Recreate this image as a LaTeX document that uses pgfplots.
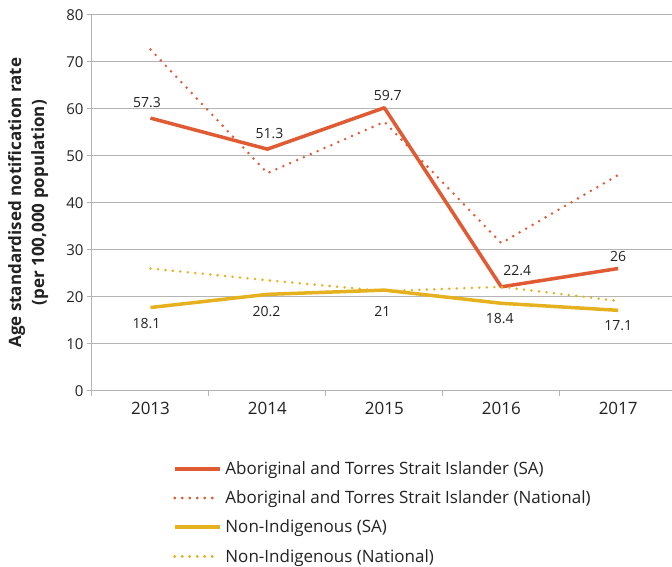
\documentclass[border=0pt]{standalone}
\usepackage{fontspec}
\setmainfont{Open Sans}
\usepackage{pgfplots}
\pgfplotsset{compat=1.18}
\definecolor{abo}{HTML}{E05A33}
\definecolor{non}{HTML}{E6B11E}
\definecolor{gridc}{HTML}{B4B4B4}
\definecolor{txt}{HTML}{222222}

\pgfplotstableread{
x y lab dx dy
0 58.0 57.3 -3.5 16
1 51.4 51.3 2 16
2 60.2 59.7 3.5 12
3 22.1 22.4 16 16
4 26.0 26 0 12
}\aboSA
\pgfplotstableread{
x y
0 72.6
1 46.3
2 57.2
3 31.4
4 45.9
}\aboNat
\pgfplotstableread{
x y lab dx dy
0 17.7 18.1 -4 -16
1 20.5 20.2 -1 -17
2 21.4 21 -2 -21
3 18.6 18.4 -1.5 -15
4 17.1 17.1 0 -15
}\nonSA
\pgfplotstableread{
x y
0 26.0
1 23.5
2 21.2
3 22.1
4 19.1
}\nonNat

\begin{document}
\begin{tikzpicture}
\useasboundingbox (-92pt,-175.3pt) rectangle (580pt,390.7pt);
\begin{axis}[
  scale only axis, width=580pt, height=376pt,
  xmin=-0.5, xmax=4.46, ymin=0, ymax=80,
  axis x line=bottom, axis y line=left,
  axis line style={gridc, line width=1pt, -},
  tick align=outside,
  xtick={0,1,2,3,4}, xticklabels={2013,2014,2015,2016,2017},
  major x tick style={draw=none},
  minor xtick={-0.5,0.5,1.5,2.5,3.5},
  minor tick length=5pt, major tick length=5pt,
  minor tick style={gridc, line width=1pt},
  ytick={0,10,...,80},
  y tick style={gridc, line width=1pt},
  ymajorgrids, grid style={gridc, line width=0.8pt},
  xticklabel style={font=\fontsize{17}{20}\selectfont, text=txt, yshift=-3pt},
  yticklabel style={font=\fontsize{15}{18}\selectfont, text=txt},
  /pgf/number format/assume math mode=true,
  ylabel={Age standardised notification rate\\(per 100,000 population)},
  every axis y label/.style={at={(rel axis cs:-0.110,0.5)}, rotate=90, anchor=center,
     align=center, font=\fontsize{17}{23}\selectfont\bfseries, text=txt},
  legend style={at={(rel axis cs:0.134,-0.172)}, anchor=north west, draw=none, fill=none,
     font=\fontsize{17}{20}\selectfont, text=txt, row sep=6.8pt,
     nodes={inner sep=4pt}},
  legend cell align=left,
  legend image code/.code={\draw[#1] (0pt,0pt) -- (38pt,0pt); \path (0pt,0pt) -- (45pt,0pt);},
  nodes near coords style={font=\fontsize{14}{17}\selectfont, text=txt, anchor=center},
]
\addplot[abo, line width=3.5pt, line join=round,
  nodes near coords, point meta=explicit symbolic,
  visualization depends on={\thisrow{dx} \as \dx},
  visualization depends on={\thisrow{dy} \as \dy},
  every node near coord/.append style={xshift={\dx*1pt}, yshift={\dy*1pt}}]
  table[x=x, y=y, meta=lab] {\aboSA};
\addlegendentry{Aboriginal and Torres Strait Islander (SA)}
\addplot[abo, line width=2.8pt, line cap=round, dash pattern=on 0pt off 7.5pt]
  table[x=x, y=y] {\aboNat};
\addlegendentry{Aboriginal and Torres Strait Islander (National)}
\addplot[non, line width=3.5pt, line join=round,
  nodes near coords, point meta=explicit symbolic,
  visualization depends on={\thisrow{dx} \as \dx},
  visualization depends on={\thisrow{dy} \as \dy},
  every node near coord/.append style={xshift={\dx*1pt}, yshift={\dy*1pt}}]
  table[x=x, y=y, meta=lab] {\nonSA};
\addlegendentry{Non-Indigenous (SA)}
\addplot[non, line width=2.8pt, line cap=round, dash pattern=on 0pt off 7.5pt]
  table[x=x, y=y] {\nonNat};
\addlegendentry{Non-Indigenous (National)}
\end{axis}
\end{tikzpicture}
\end{document}
